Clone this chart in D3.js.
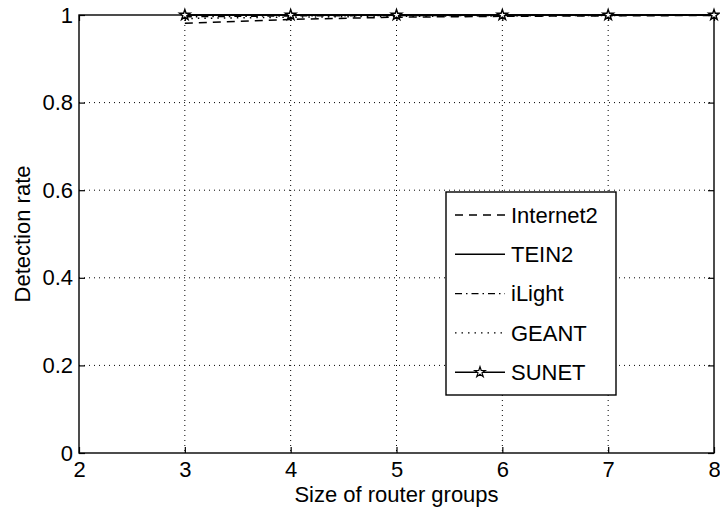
<!DOCTYPE html>
<html>
<head>
<meta charset="utf-8">
<script src="https://cdn.jsdelivr.net/npm/d3@7/dist/d3.min.js"></script>
<style>
  html, body { margin: 0; padding: 0; background: #fff; }
  svg { display: block; }
  text { font-family: "Liberation Sans", Arial, Helvetica, sans-serif; fill: #000; }
</style>
</head>
<body>
<svg id="chart" width="720" height="509"></svg>
<script>
// Router group sizes on the x axis
const groupSizes = [3, 4, 5, 6, 7, 8];

// Detection rate per network
const internet2 = [0.981, 0.990, 0.995, 0.997, 0.998, 0.999];
const tein2     = [1, 1, 1, 1, 1, 1];
const ilight    = [0.996, 0.998, 0.999, 0.999, 1, 1];
const geant     = [0.992, 0.995, 0.997, 0.998, 0.999, 1];
const sunet     = [1, 1, 1, 1, 1, 1];

const seriesNames = ["Internet2", "TEIN2", "iLight", "GEANT", "SUNET"];
const seriesValues = [internet2, tein2, ilight, geant, sunet];

const xTicks = [2, 3, 4, 5, 6, 7, 8];
const yTicks = [0, 0.2, 0.4, 0.6, 0.8, 1];
const yTickLabels = ["0", "0.2", "0.4", "0.6", "0.8", "1"];

// Line styles per series
const dashStyles = ["8,6", null, "7,4,1.5,4", "1.5,5", null];

const svg = d3.select("#chart");
const plotLeft = 79, plotRight = 714, plotTop = 15, plotBottom = 453;
const fontSize = "22px";

const x = d3.scaleLinear().domain([2, 8]).range([plotLeft, plotRight]);
const y = d3.scaleLinear().domain([0, 1]).range([plotBottom, plotTop]);

// grid
const grid = svg.append("g");
grid.selectAll("line.vx").data(xTicks.slice(1, -1)).join("line")
  .attr("x1", d => x(d)).attr("x2", d => x(d))
  .attr("y1", plotTop).attr("y2", plotBottom)
  .attr("stroke", "#000").attr("stroke-width", 1)
  .attr("stroke-dasharray", "1,4");
grid.selectAll("line.hy").data(yTicks.slice(1, -1)).join("line")
  .attr("x1", plotLeft).attr("x2", plotRight)
  .attr("y1", d => y(d)).attr("y2", d => y(d))
  .attr("stroke", "#000").attr("stroke-width", 1)
  .attr("stroke-dasharray", "1,4");

// frame
svg.append("rect")
  .attr("x", plotLeft).attr("y", plotTop)
  .attr("width", plotRight - plotLeft).attr("height", plotBottom - plotTop)
  .attr("fill", "none").attr("stroke", "#000").attr("stroke-width", 1.4);

// axes with inward ticks
const tickLen = 6;
const xAxisBottom = d3.axisBottom(x).tickValues(xTicks).tickSize(-tickLen).tickPadding(8).tickFormat(d3.format("d"));
const xAxisTop = d3.axisTop(x).tickValues(xTicks).tickSize(-tickLen).tickFormat("");
const yAxisLeft = d3.axisLeft(y).tickValues(yTicks).tickSize(-tickLen).tickPadding(6).tickFormat((d, i) => yTickLabels[i]);
const yAxisRight = d3.axisRight(y).tickValues(yTicks).tickSize(-tickLen).tickFormat("");

function styleAxis(g) {
  g.select(".domain").remove();
  g.attr("font-family", null).attr("font-size", null);
  g.selectAll(".tick line").attr("stroke", "#000").attr("stroke-width", 1.2);
  g.selectAll(".tick text").style("font-size", fontSize).attr("fill", "#000");
}
svg.append("g").attr("transform", `translate(0,${plotBottom})`).call(xAxisBottom).call(styleAxis);
svg.append("g").attr("transform", `translate(0,${plotTop})`).call(xAxisTop).call(styleAxis);
svg.append("g").attr("transform", `translate(${plotLeft},0)`).call(yAxisLeft).call(styleAxis);
svg.append("g").attr("transform", `translate(${plotRight},0)`).call(yAxisRight).call(styleAxis);

// axis titles
svg.append("text")
  .attr("x", (plotLeft + plotRight) / 2).attr("y", 502)
  .attr("text-anchor", "middle").style("font-size", fontSize)
  .text("Size of router groups");
svg.append("text")
  .attr("transform", `translate(30,${(plotTop + plotBottom) / 2}) rotate(-90)`)
  .attr("text-anchor", "middle").style("font-size", fontSize)
  .text("Detection rate");

// series lines
const line = d3.line().x((d, i) => x(groupSizes[i])).y(d => y(d));
const linesG = svg.append("g");
seriesValues.forEach((vals, k) => {
  linesG.append("path")
    .datum(vals)
    .attr("d", line)
    .attr("fill", "none")
    .attr("stroke", "#000")
    .attr("stroke-width", 1.5)
    .attr("stroke-dasharray", dashStyles[k]);
});

// star markers for SUNET
const star = d3.symbol().type(d3.symbolStar).size(34);
linesG.selectAll("path.star").data(sunet).join("path")
  .attr("class", "star")
  .attr("d", star)
  .attr("transform", (d, i) => `translate(${x(groupSizes[i])},${y(d)})`)
  .attr("fill", "#fff").attr("stroke", "#000").attr("stroke-width", 1.4);

// legend
const lg = svg.append("g");
const lgX = 446, lgY = 192, lgW = 170, lgH = 203;
lg.append("rect").attr("x", lgX).attr("y", lgY).attr("width", lgW).attr("height", lgH)
  .attr("fill", "#fff").attr("stroke", "#000").attr("stroke-width", 1.4);
seriesNames.forEach((name, k) => {
  const cy = 215 + k * 39.3;
  lg.append("line")
    .attr("x1", 455).attr("x2", 505).attr("y1", cy).attr("y2", cy)
    .attr("stroke", "#000").attr("stroke-width", 1.4)
    .attr("stroke-dasharray", dashStyles[k]);
  if (name === "SUNET") {
    lg.append("path").attr("d", star).attr("transform", `translate(480,${cy})`)
      .attr("fill", "#fff").attr("stroke", "#000").attr("stroke-width", 1.2);
  }
  lg.append("text").attr("x", 511).attr("y", cy).attr("dy", "0.35em")
    .style("font-size", fontSize).text(name);
});
</script>
</body>
</html>
